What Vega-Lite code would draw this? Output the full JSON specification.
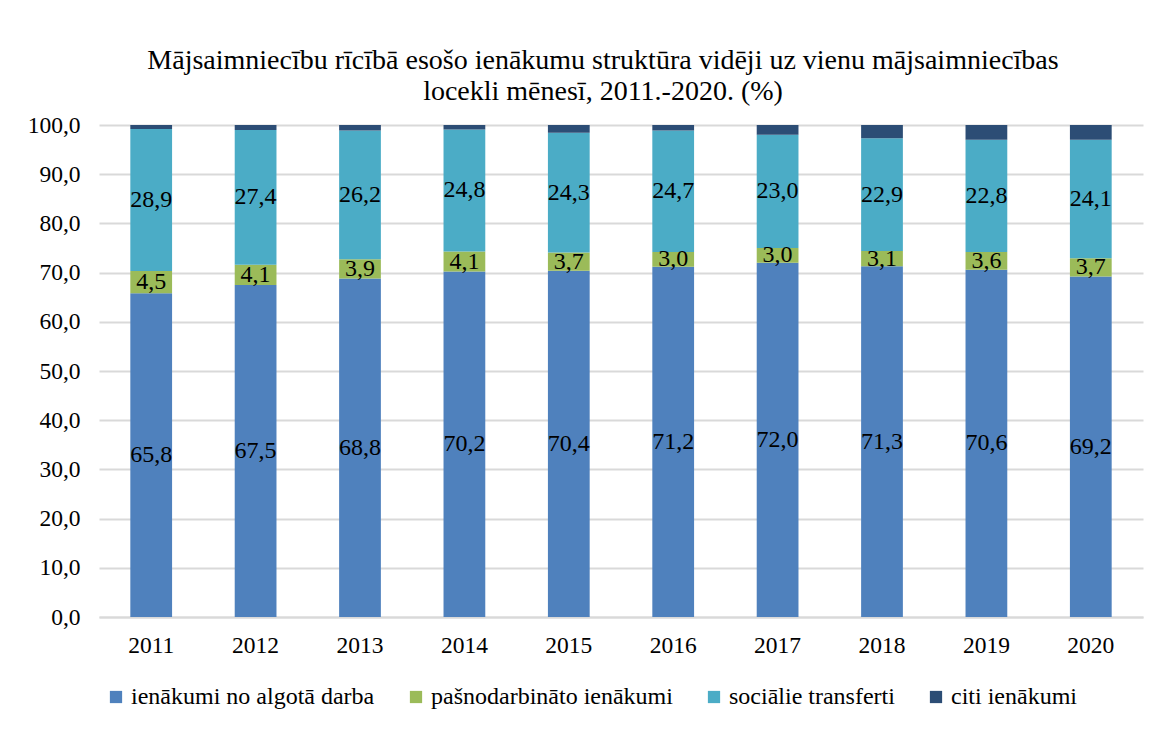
{
  "$schema": "https://vega.github.io/schema/vega-lite/v6.json",
  "autosize": "none",
  "width": 1044,
  "height": 492,
  "padding": {"left": 99, "top": 125, "right": 18, "bottom": 112},
  "background": "white",
  "config": {
    "font": "Liberation Serif",
    "view": {"stroke": null},
    "locale": {"number": {"decimal": ",", "thousands": " ", "grouping": [3], "currency": ["", " €"]}},
    "axis": {"labelFont": "Liberation Serif", "labelFontSize": 23.5, "labelColor": "#000000", "ticks": false, "title": null},
    "legend": {"labelFont": "Liberation Serif"},
    "title": {"font": "Liberation Serif"}
  },
  "title": {
    "text": ["Mājsaimniecību rīcībā esošo ienākumu struktūra vidēji uz vienu mājsaimniecības", "locekli mēnesī, 2011.-2020. (%)"],
    "font": "Liberation Serif",
    "fontSize": 28,
    "fontWeight": "normal",
    "color": "#000000",
    "lineHeight": 31,
    "anchor": "middle",
    "dx": -18,
    "offset": 7
  },
  "data": {
    "values": [
      {"year": "2011", "cat": "ienākumi no algotā darba", "order": 1, "value": 65.8},
      {"year": "2011", "cat": "pašnodarbināto ienākumi", "order": 2, "value": 4.5},
      {"year": "2011", "cat": "sociālie transferti", "order": 3, "value": 28.9},
      {"year": "2011", "cat": "citi ienākumi", "order": 4, "value": 0.8},
      {"year": "2012", "cat": "ienākumi no algotā darba", "order": 1, "value": 67.5},
      {"year": "2012", "cat": "pašnodarbināto ienākumi", "order": 2, "value": 4.1},
      {"year": "2012", "cat": "sociālie transferti", "order": 3, "value": 27.4},
      {"year": "2012", "cat": "citi ienākumi", "order": 4, "value": 1.0},
      {"year": "2013", "cat": "ienākumi no algotā darba", "order": 1, "value": 68.8},
      {"year": "2013", "cat": "pašnodarbināto ienākumi", "order": 2, "value": 3.9},
      {"year": "2013", "cat": "sociālie transferti", "order": 3, "value": 26.2},
      {"year": "2013", "cat": "citi ienākumi", "order": 4, "value": 1.1},
      {"year": "2014", "cat": "ienākumi no algotā darba", "order": 1, "value": 70.2},
      {"year": "2014", "cat": "pašnodarbināto ienākumi", "order": 2, "value": 4.1},
      {"year": "2014", "cat": "sociālie transferti", "order": 3, "value": 24.8},
      {"year": "2014", "cat": "citi ienākumi", "order": 4, "value": 0.9},
      {"year": "2015", "cat": "ienākumi no algotā darba", "order": 1, "value": 70.4},
      {"year": "2015", "cat": "pašnodarbināto ienākumi", "order": 2, "value": 3.7},
      {"year": "2015", "cat": "sociālie transferti", "order": 3, "value": 24.3},
      {"year": "2015", "cat": "citi ienākumi", "order": 4, "value": 1.6},
      {"year": "2016", "cat": "ienākumi no algotā darba", "order": 1, "value": 71.2},
      {"year": "2016", "cat": "pašnodarbināto ienākumi", "order": 2, "value": 3.0},
      {"year": "2016", "cat": "sociālie transferti", "order": 3, "value": 24.7},
      {"year": "2016", "cat": "citi ienākumi", "order": 4, "value": 1.1},
      {"year": "2017", "cat": "ienākumi no algotā darba", "order": 1, "value": 72.0},
      {"year": "2017", "cat": "pašnodarbināto ienākumi", "order": 2, "value": 3.0},
      {"year": "2017", "cat": "sociālie transferti", "order": 3, "value": 23.0},
      {"year": "2017", "cat": "citi ienākumi", "order": 4, "value": 2.0},
      {"year": "2018", "cat": "ienākumi no algotā darba", "order": 1, "value": 71.3},
      {"year": "2018", "cat": "pašnodarbināto ienākumi", "order": 2, "value": 3.1},
      {"year": "2018", "cat": "sociālie transferti", "order": 3, "value": 22.9},
      {"year": "2018", "cat": "citi ienākumi", "order": 4, "value": 2.7},
      {"year": "2019", "cat": "ienākumi no algotā darba", "order": 1, "value": 70.6},
      {"year": "2019", "cat": "pašnodarbināto ienākumi", "order": 2, "value": 3.6},
      {"year": "2019", "cat": "sociālie transferti", "order": 3, "value": 22.8},
      {"year": "2019", "cat": "citi ienākumi", "order": 4, "value": 3.0},
      {"year": "2020", "cat": "ienākumi no algotā darba", "order": 1, "value": 69.2},
      {"year": "2020", "cat": "pašnodarbināto ienākumi", "order": 2, "value": 3.7},
      {"year": "2020", "cat": "sociālie transferti", "order": 3, "value": 24.1},
      {"year": "2020", "cat": "citi ienākumi", "order": 4, "value": 3.0}
    ]
  },
  "encoding": {
    "x": {
      "field": "year",
      "type": "nominal",
      "scale": {"paddingInner": 0.6, "paddingOuter": 0.3},
      "axis": {"labelAngle": 0, "labelPadding": 16, "domain": true, "domainColor": "#d9d9d9", "domainWidth": 2}
    }
  },
  "layer": [
    {
      "mark": {"type": "bar"},
      "encoding": {
        "y": {
          "field": "value",
          "type": "quantitative",
          "stack": "zero",
          "scale": {"domain": [0, 100], "nice": false},
          "axis": {"values": [0, 10, 20, 30, 40, 50, 60, 70, 80, 90, 100], "format": ".1f", "domain": false, "grid": true, "gridColor": "#d9d9d9", "gridWidth": 2, "labelPadding": 19}
        },
        "color": {
          "field": "cat",
          "type": "nominal",
          "scale": {
            "domain": ["ienākumi no algotā darba", "pašnodarbināto ienākumi", "sociālie transferti", "citi ienākumi"],
            "range": ["#4f81bd", "#9bbb59", "#4bacc6", "#2c4d75"]
          },
          "legend": {
            "title": null,
            "orient": "none",
            "direction": "horizontal",
            "legendX": 5,
            "legendY": 560,
            "symbolType": "square",
            "symbolSize": 150,
            "symbolStrokeWidth": 0,
            "labelFont": "Liberation Serif",
            "labelFontSize": 24,
            "labelColor": "#000000",
            "labelOffset": 3,
            "columnPadding": 29,
            "labelLimit": 400
          }
        },
        "order": {"field": "order", "type": "quantitative"}
      }
    },
    {
      "transform": [{"filter": "datum.cat != 'citi ienākumi'"}],
      "mark": {"type": "text", "font": "Liberation Serif", "fontSize": 24, "color": "#000000", "baseline": "middle"},
      "encoding": {
        "y": {"field": "value", "type": "quantitative", "stack": "zero", "bandPosition": 0.5},
        "order": {"field": "order", "type": "quantitative"},
        "text": {"field": "value", "type": "quantitative", "format": ".1f"}
      }
    }
  ]
}
